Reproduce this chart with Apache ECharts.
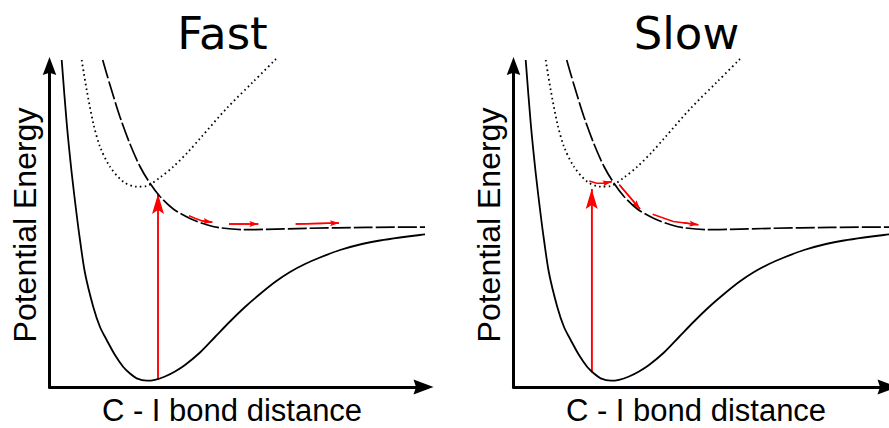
<!DOCTYPE html>
<html><head><meta charset="utf-8">
<script src="https://cdn.jsdelivr.net/npm/echarts@6/dist/echarts.min.js"></script>
<style>html,body{margin:0;padding:0;background:#fff}#c{width:889px;height:428px}</style>
</head><body><div id="c"></div>
<script>
// ---- data (arbitrary units: bond distance, energy) ----
const panelTitles = ['Fast', 'Slow'];
const xAxisLabel = 'C - I bond distance';
const yAxisLabel = 'Potential Energy';

const groundState = [[12.2,327],[17.2,264],[22.2,214],[27.2,172],[30.5,147],[35.5,114],[43.8,80],[50.5,60],[57.2,47],[65.5,32],[73.8,20],[80.5,13.5],[87.2,8.7],[97.2,6.3],[105.5,7.2],[115.5,10.5],[125.5,15.5],[135.5,22],[150.5,34.5],[165.5,50],[180.5,65.5],[195.5,80],[210.5,93],[225.5,105],[240.5,115],[255.5,123],[270.5,129.5],[290.5,137],[310.5,142.5],[330.5,146.5],[350.5,149.5],[370.5,152],[385.5,153.5]];
const repulsiveState = [[53.2,327],[60.5,302],[70.5,270],[80.5,243],[90.5,220.5],[100.5,203.7],[110.5,190.5],[123.8,178],[140.5,168.5],[157.2,162.2],[170.5,159.2],[193.8,157.4],[217.2,157.6],[257.2,158.7],[317.2,159.6],[385.5,160]];
const boundExcitedState = [[32.2,327],[37.2,297],[43.8,263.7],[50.5,240.3],[60.5,220.3],[73.8,205.3],[87.2,200.3],[97.2,201],[110.5,209.5],[123.8,220.3],[138.8,235.3],[150.5,248.5],[177.2,278.7],[203.8,305.3],[227.2,328.7]];

const fastExcitation = [[108.5,7],[108.5,193]];
const fastPaths = [
  [[139.5,171.3],[146,168.5],[152.2,166.3],[162.8,164.7]],
  [[179.5,163],[208.8,163]],
  [[246.2,163],[289.5,164]]
];
const slowExcitation = [[78.2,14.5],[78.2,198]];
const slowPaths = [
  [[75.8,206],[83.2,203.7],[89.8,203.7],[98.2,205.3]],
  [[105.8,202.3],[126.5,178]],
  [[139.2,172.7],[159.8,165.5],[169.8,164.3],[184.8,162.3]]
];

// ---- chart ----
const X_MAX = 374, Y_MAX = 321;
const panelLeft = [49.5, 513.5];
const axisArrow = 'path://M6,0 L12,16 L6,14 L0,16 Z';
// arrowhead whose tip sits at the symbol centre
const tipArrow = 'path://M5,0 M5,10 L10,20 L5,18 L0,20 Z';

const grids = [], xAxes = [], yAxes = [], series = [];
[0, 1].forEach(function (p) {
  grids.push({left: panelLeft[p], top: 66, width: X_MAX, height: Y_MAX, containLabel: false});
  xAxes.push({type: 'value', gridIndex: p, min: 0, max: X_MAX,
    axisLine: {show: true, lineStyle: {color: '#000', width: 3}, symbol: ['none', axisArrow], symbolSize: [16, 20]},
    axisTick: {show: false}, axisLabel: {show: false}, splitLine: {show: false}});
  yAxes.push({type: 'value', gridIndex: p, min: 0, max: Y_MAX,
    axisLine: {show: true, onZero: false, lineStyle: {color: '#000', width: 3}, symbol: ['none', axisArrow], symbolSize: [15, 18]},
    axisTick: {show: false}, axisLabel: {show: false}, splitLine: {show: false}});

  const base = {type: 'line', xAxisIndex: p, yAxisIndex: p, showSymbol: false, symbol: 'none', smooth: 0.3, clip: false, silent: true, animation: false};
  series.push(Object.assign({}, base, {data: groundState, lineStyle: {color: '#000', width: 1.8}}));
  series.push(Object.assign({}, base, {data: repulsiveState, lineStyle: {color: '#000', width: 1.7, type: [19, 3]}}));
  series.push(Object.assign({}, base, {data: boundExcitedState, lineStyle: {color: '#000', width: 1.8, type: [1.6, 3.2]}}));

  const exc = p === 0 ? fastExcitation : slowExcitation;
  const paths = p === 0 ? fastPaths : slowPaths;
  // arrow bodies
  series.push({type: 'lines', coordinateSystem: 'cartesian2d', xAxisIndex: p, yAxisIndex: p, polyline: true, silent: true, animation: false,
    lineStyle: {color: '#ff0000', width: 1.5, opacity: 1},
    data: [{coords: exc}].concat(paths.map(function (c) { return {coords: c}; }))});
  // big arrowhead
  series.push({type: 'lines', coordinateSystem: 'cartesian2d', xAxisIndex: p, yAxisIndex: p, silent: true, animation: false,
    symbol: ['none', tipArrow], symbolSize: [0, [12, 40]],
    lineStyle: {color: '#ff0000', width: 1.5, opacity: 1},
    data: [{coords: exc.slice(-2)}]});
  // small arrowheads
  series.push({type: 'lines', coordinateSystem: 'cartesian2d', xAxisIndex: p, yAxisIndex: p, silent: true, animation: false,
    symbol: ['none', tipArrow], symbolSize: [0, [6, 18]],
    lineStyle: {color: '#ff0000', width: 1.5, opacity: 1},
    data: paths.map(function (c) { return {coords: c.slice(-2)}; })});
});

const graphics = [];
[0, 1].forEach(function (p) {
  const dx = panelLeft[p] - panelLeft[0];
  graphics.push({type: 'text', x: 222.5 + dx, y: 33, style: {text: panelTitles[p], font: '45px "DejaVu Sans"', fill: '#000', align: 'center', verticalAlign: 'middle', textAlign: 'center', textVerticalAlign: 'middle'}});
  graphics.push({type: 'text', x: 232 + dx, y: 410.5, style: {text: xAxisLabel, font: '31px "Liberation Sans"', lineHeight: 24, fill: '#000', align: 'center', verticalAlign: 'middle', textAlign: 'center', textVerticalAlign: 'middle'}});
  graphics.push({type: 'text', x: 25 + dx, y: 225, rotation: Math.PI / 2, style: {text: yAxisLabel, font: '32px "Liberation Sans"', fill: '#000', align: 'center', verticalAlign: 'middle', textAlign: 'center', textVerticalAlign: 'middle'}});
});

const chart = echarts.init(document.getElementById('c'), null, {renderer: 'svg'});
chart.setOption({
  animation: false,
  backgroundColor: '#fff',
  grid: grids, xAxis: xAxes, yAxis: yAxes, series: series,
  graphic: graphics
});
</script></body></html>
